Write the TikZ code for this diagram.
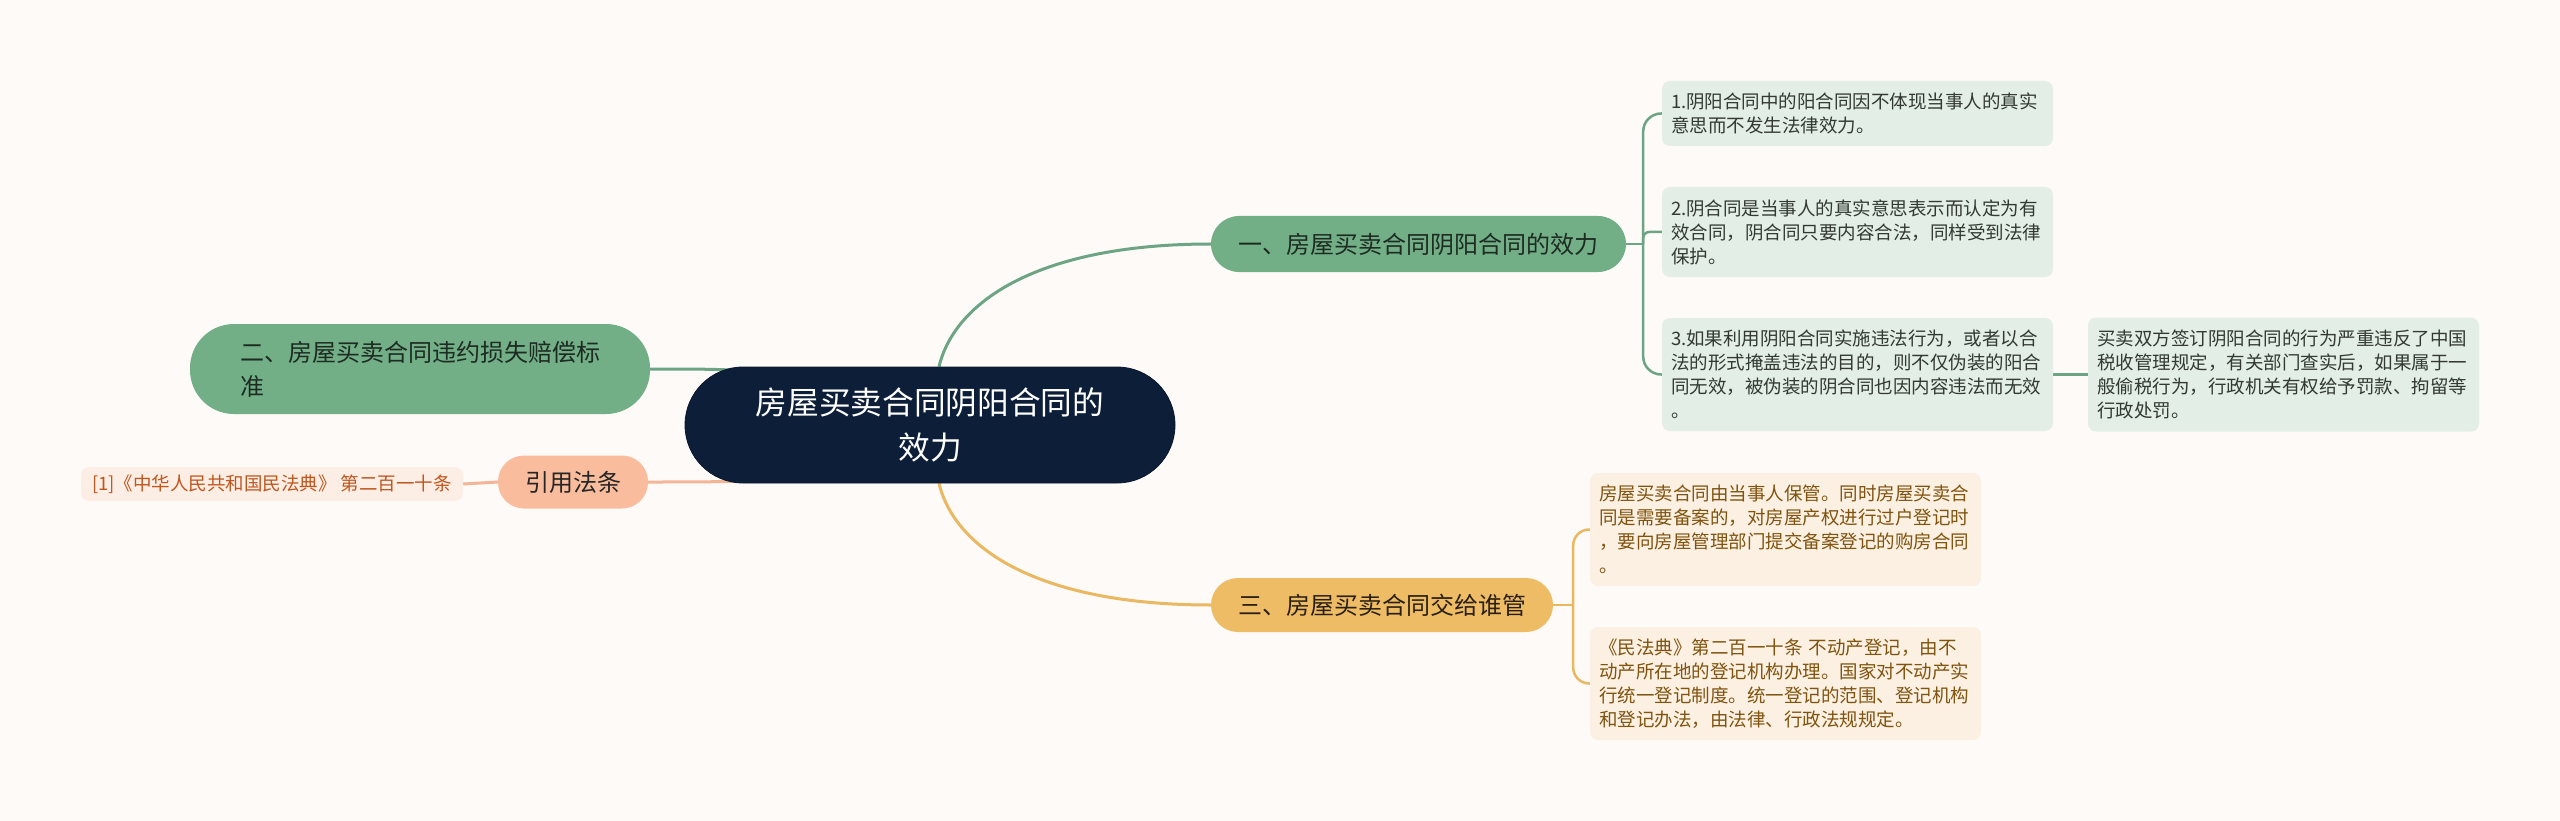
\documentclass[tikz,border=0pt]{standalone}
\usepackage{fontspec}
\setmainfont{Noto Sans CJK SC}
\usetikzlibrary{calc}
\definecolor{bgc}{HTML}{FDFAF8}
\definecolor{navy}{HTML}{0C1E38}
\definecolor{gfill}{HTML}{72AF87}
\definecolor{gline}{HTML}{6DA584}
\definecolor{gleaf}{HTML}{E2EEE6}
\definecolor{gtext}{HTML}{1E2B22}
\definecolor{gltext}{HTML}{333833}
\definecolor{yfill}{HTML}{EFBC66}
\definecolor{yline}{HTML}{E9B861}
\definecolor{yleaf}{HTML}{FBF0E1}
\definecolor{ytext}{HTML}{2A2012}
\definecolor{yltext}{HTML}{80530F}
\definecolor{sfill}{HTML}{F9BD9E}
\definecolor{sline}{HTML}{F4B496}
\definecolor{sleaf}{HTML}{FDEEE5}
\definecolor{sltext}{HTML}{BF561D}
\pgfdeclarelayer{bgfill}
\pgfdeclarelayer{lines}
\pgfsetlayers{bgfill,lines,main}
\tikzset{
  centernode/.style={fill=navy, draw=navy!80!black, line width=0.8pt, text=white, rounded corners=58pt,
    minimum width=490pt, minimum height=116pt, inner sep=0pt, align=center,
    font=\fontsize{31.7}{45}\selectfont},
  branchbase/.style={inner sep=0pt, font=\fontsize{24}{34}\selectfont},
  gbranch/.style={branchbase, fill=gfill, text=gtext, rounded corners=28pt, minimum height=56pt},
  ybranch/.style={branchbase, fill=yfill, text=ytext, rounded corners=27pt, minimum height=54pt},
  sbranch/.style={branchbase, fill=sfill, text=black!85, rounded corners=26pt, minimum height=53pt},
  leafbase/.style={rounded corners=8pt, inner xsep=9pt, inner ysep=0pt, text width=373pt, align=left,
    font=\fontsize{18.5}{24}\selectfont},
  gleafbox/.style={leafbase, fill=gleaf, text=gltext},
  yleafbox/.style={leafbase, fill=yleaf, text=yltext},
  gconn/.style={draw=gline, line width=3pt},
  gconn2/.style={draw=gline, line width=2.5pt},
  yconn/.style={draw=yline, line width=3pt},
  yconn2/.style={draw=yline, line width=2.5pt},
  sconn/.style={draw=sline, line width=3pt},
}
\begin{document}
\begin{tikzpicture}[x=1pt,y=-1pt]
\begin{pgfonlayer}{bgfill}
\fill[bgc] (0,0) rectangle (2560,821);
\end{pgfonlayer}
\useasboundingbox (0,0) rectangle (2560,821);

% center
\node[centernode] (c) at (930,425) {房屋买卖合同阴阳合同的\\效力};

% branches
\node[gbranch, minimum width=415pt] (b1) at (1418.5,244) {一、房屋买卖合同阴阳合同的效力};
\node[gbranch, minimum width=460pt, minimum height=90pt, rounded corners=44pt, align=left] (b2) at (420,369) {二、房屋买卖合同违约损失赔偿标\\准};
\node[sbranch, minimum width=150pt] (r) at (573,482) {引用法条};
\node[ybranch, minimum width=342pt] (b3) at (1382,605) {三、房屋买卖合同交给谁管};

% reference leaf
\node[rounded corners=8pt, fill=sleaf, text=sltext, minimum width=382pt, minimum height=34pt, inner sep=0pt,
  font=\fontsize{18.5}{24}\selectfont] (ref) at (272,484) {[1]《中华人民共和国民法典》 第二百一十条};

% green leaves
\node[gleafbox, minimum height=65pt] (l1) at (1857.5,113.5) {1.阴阳合同中的阳合同因不体现当事人的真实\\意思而不发生法律效力。};
\node[gleafbox, minimum height=90pt] (l2) at (1857.5,232) {2.阴合同是当事人的真实意思表示而认定为有\\效合同，阴合同只要内容合法，同样受到法律\\保护。};
\node[gleafbox, minimum height=113pt] (l3) at (1857.5,374.5) {3.如果利用阴阳合同实施违法行为，或者以合\\法的形式掩盖违法的目的，则不仅伪装的阳合\\同无效，被伪装的阴合同也因内容违法而无效\\。};
\node[gleafbox, minimum height=114pt] (far) at (2283.5,374.5) {买卖双方签订阴阳合同的行为严重违反了中国\\税收管理规定，有关部门查实后，如果属于一\\般偷税行为，行政机关有权给予罚款、拘留等\\行政处罚。};

% yellow leaves
\node[yleafbox, minimum height=113pt] (y1) at (1785.5,529.5) {房屋买卖合同由当事人保管。同时房屋买卖合\\同是需要备案的，对房屋产权进行过户登记时\\，要向房屋管理部门提交备案登记的购房合同\\。};
\node[yleafbox, minimum height=113pt] (y2) at (1785.5,683.5) {《民法典》第二百一十条 不动产登记，由不\\动产所在地的登记机构办理。国家对不动产实\\行统一登记制度。统一登记的范围、登记机构\\和登记办法，由法律、行政法规规定。};

\coordinate (j1) at ([xshift=17pt]b1.east);
\coordinate (j3) at ([xshift=20pt]b3.east);

\begin{pgfonlayer}{lines}
% center to main branches
\draw[gconn] ([xshift=9pt]c.north) .. controls ($([xshift=9pt]c.north)+(16,-66)$) and ($(b1.west)+(-171,0)$) .. (b1.west);
\draw[yconn] ([xshift=9pt]c.south) .. controls ($([xshift=9pt]c.south)+(16,66)$) and ($(b3.west)+(-171,0)$) .. (b3.west);
\draw[gconn] (c.center) .. controls ($(b2.east)+(130,0)$) .. (b2.east);
\draw[sconn] (c.center) .. controls ($(r.east)+(150,0)$) .. (r.east);
\draw[sconn] (r.west) -- (ref.east);
% green bracket
\draw[gconn2] (b1.east) -- (j1);
\draw[gconn2, rounded corners=18pt] (j1) -- (j1 |- l1.west) -- (l1.west);
\draw[gconn2, rounded corners=6pt] (j1) -- (j1 |- l2.west) -- (l2.west);
\draw[gconn2, rounded corners=18pt] (j1) -- (j1 |- l3.west) -- (l3.west);
\draw[gconn2] (l3.east) -- (far.west);
% yellow bracket
\draw[yconn2] (b3.east) -- (j3);
\draw[yconn2, rounded corners=16pt] (j3) -- (j3 |- y1.west) -- (y1.west);
\draw[yconn2, rounded corners=16pt] (j3) -- (j3 |- y2.west) -- (y2.west);
\end{pgfonlayer}
\end{tikzpicture}
\end{document}
